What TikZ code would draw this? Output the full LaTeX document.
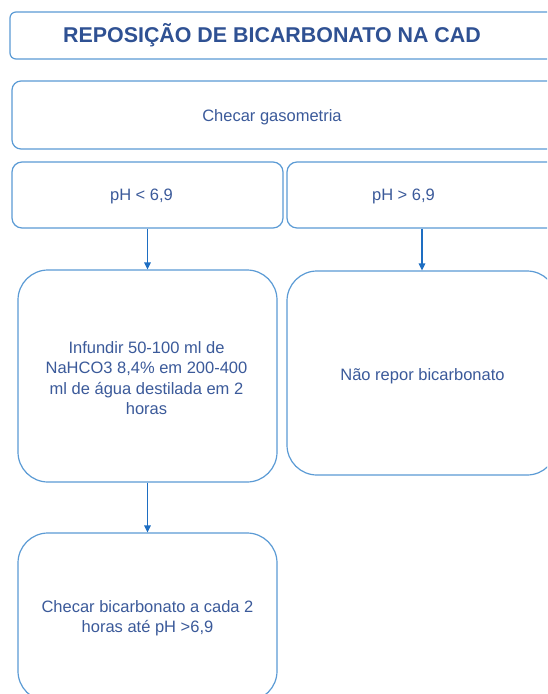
\documentclass[tikz,border=0pt]{standalone}
\usepackage{fontspec}
\setmainfont{Liberation Sans}
\usetikzlibrary{arrows.meta}

\definecolor{boxline}{HTML}{5B9BD5}
\definecolor{boxtext}{HTML}{3B5A9A}
\definecolor{titleblue}{HTML}{2F5193}
\definecolor{arrowblue}{HTML}{1E6EC2}

\tikzset{
  box/.style={draw=boxline, line width=1.2pt, fill=white, inner sep=0pt},
  lbl/.style={text=boxtext, font=\fontsize{16.5}{20.5}\selectfont, align=center},
  link/.style={draw=arrowblue, line width=1.4pt, -{Triangle[length=7pt,width=6.5pt]}}
}

\begin{document}
\begin{tikzpicture}[x=1pt, y=-1pt]
    \useasboundingbox (0,0) rectangle (547,694);
    \fill[white] (0,0) rectangle (547,694);
    \clip (0,0) rectangle (547,694);

    % Title
    \node[box, rounded corners=6pt, minimum width=547pt, minimum height=47pt] (title) at (283.5,35.5) {};
    \node[text=titleblue, font=\fontsize{21.4}{24}\selectfont\bfseries] (titletxt) at (272,35.5) {REPOSIÇÃO DE BICARBONATO NA CAD};

    % First step
    \node[box, rounded corners=9pt, minimum width=545pt, minimum height=68pt] (gaso) at (284.5,115) {};
    \node[lbl] (gasotxt) at (272,117) {Checar gasometria};

    % pH branches
    \node[box, rounded corners=10pt, minimum width=271pt, minimum height=66pt] (phlow) at (147.5,195) {};
    \node[lbl] (phlowtxt) at (141.5,196.5) {pH < 6,9};
    \node[box, rounded corners=10pt, minimum width=270pt, minimum height=66pt] (phhigh) at (422,195) {};
    \node[lbl] (phhightxt) at (403.5,196.5) {pH > 6,9};

    % Actions
    \node[box, rounded corners=30pt, minimum width=259pt, minimum height=212pt] (infuse) at (147.5,376) {};
    \node[lbl] (infusetxt) at (146.5,378) {Infundir 50-100 ml de\\NaHCO3 8,4\% em 200-400\\ml de água destilada em 2\\horas};
    \node[box, rounded corners=30pt, minimum width=270pt, minimum height=204pt] (norepor) at (422,373) {};
    \node[lbl] (noreportxt) at (422.5,376) {Não repor bicarbonato};

    % Follow-up
    \node[box, rounded corners=30pt, minimum width=259pt, minimum height=168pt] (recheck) at (147.5,617) {};
    \node[lbl] (rechecktxt) at (147.5,618) {Checar bicarbonato a cada 2\\horas até pH >6,9};

    % Arrows
    \draw[link] (phlow.south) -- (infuse.north);
    \draw[link] (phhigh.south) -- (norepor.north);
    \draw[link] (infuse.south) -- (recheck.north);
\end{tikzpicture}
\end{document}
